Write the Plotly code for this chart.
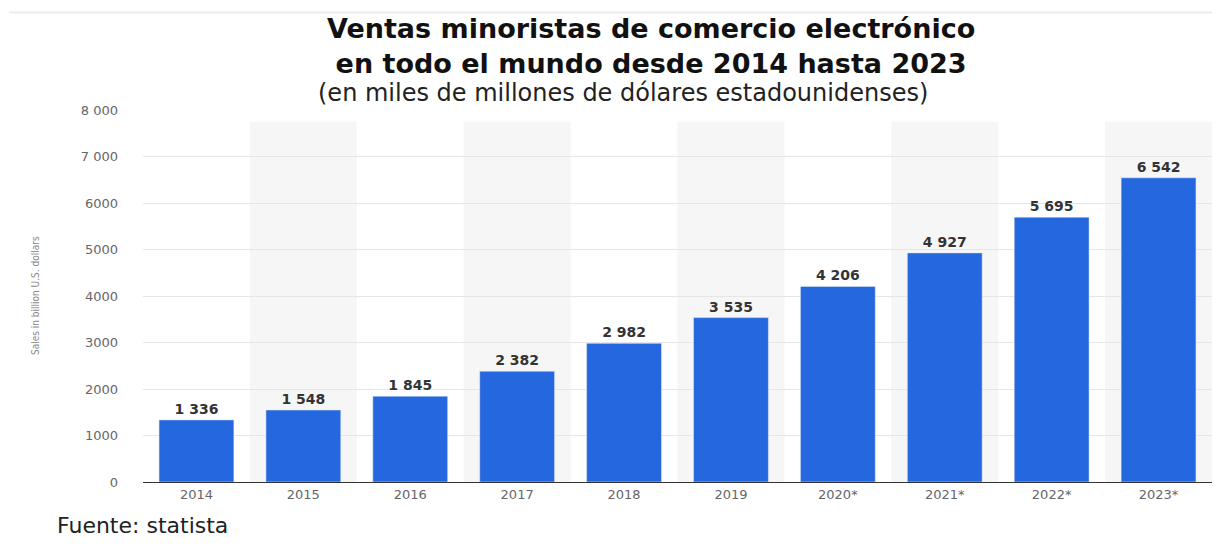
import plotly.graph_objects as go

# data
years = ['2014', '2015', '2016', '2017', '2018', '2019', '2020*', '2021*', '2022*', '2023*']
sales = [1336, 1548, 1845, 2382, 2982, 3535, 4206, 4927, 5695, 6542]
bar_labels = ['1 336', '1 548', '1 845', '2 382', '2 982', '3 535', '4 206', '4 927', '5 695', '6 542']
y_ticks = [0, 1000, 2000, 3000, 4000, 5000, 6000, 7000, 8000]
y_tick_text = ['0', '1000', '2000', '3000', '4000', '5000', '6000', '7 000', '8 000']

fig = go.Figure()
fig.add_trace(go.Bar(
    x=years, y=sales, text=['<b>%s</b>' % t for t in bar_labels], textposition='outside',
    marker_color='#2567de', width=0.7, cliponaxis=False,
    textfont=dict(family='DejaVu Sans', size=14, color='#333333'),
))

# alternating light grey columns behind every second year
for i, yr in enumerate(years):
    if i % 2 == 1:
        fig.add_shape(type='rect', xref='x', yref='y', layer='below',
                      x0=i - 0.5, x1=i + 0.5, y0=0, y1=7750,
                      fillcolor='#f6f6f6', line_width=0)

# faint rule along the top of the picture
fig.add_shape(type='line', xref='paper', yref='paper', x0=-0.125, x1=1.0, y0=1.262, y1=1.262,
              line=dict(color='#ececec', width=2))

# page body has an 8px margin, so the figure is a bit smaller than the window
fig.update_layout(
    width=1218, height=540,
    margin=dict(l=135, r=14, t=102, b=66),
    plot_bgcolor='white', paper_bgcolor='white',
    showlegend=False, bargap=0.3,
    font=dict(family='DejaVu Sans', color='#666666'),
    annotations=[
        dict(text='<b>Ventas minoristas de comercio electrónico<br>en todo el mundo desde 2014 hasta 2023</b>',
             xref='paper', yref='paper', x=0.475, y=1.078, xanchor='center', yanchor='bottom',
             showarrow=False, font=dict(size=27, color='#111111'), align='center'),
        dict(text='(en miles de millones de dólares estadounidenses)',
             xref='paper', yref='paper', x=0.449, y=1.046, xanchor='center', yanchor='middle',
             showarrow=False, font=dict(size=24, color='#222222')),
        dict(text='Fuente: statista', xref='paper', yref='paper', x=-0.082, y=-0.118,
             xanchor='left', yanchor='middle', showarrow=False,
             font=dict(size=22, color='#222222')),
        dict(text='Sales in billion U.S. dollars', xref='paper', yref='paper', x=-0.101, y=0.5,
             xanchor='center', yanchor='middle', textangle=-90, showarrow=False,
             font=dict(family='DejaVu Sans Condensed', size=10, color='#888888')),
    ],
)
fig.update_yaxes(range=[0, 8000], tickvals=y_ticks, ticktext=y_tick_text,
                 showgrid=True, gridcolor='#e6e6e6', gridwidth=1, zeroline=False,
                 ticks='', ticklabelstandoff=24, tickfont=dict(size=13, color='#666666'))
fig.update_xaxes(showline=True, linecolor='#333333', linewidth=1, ticks='',
                 tickfont=dict(size=13, color='#666666'), range=[-0.5, 9.5])

fig.write_html("out.html")
